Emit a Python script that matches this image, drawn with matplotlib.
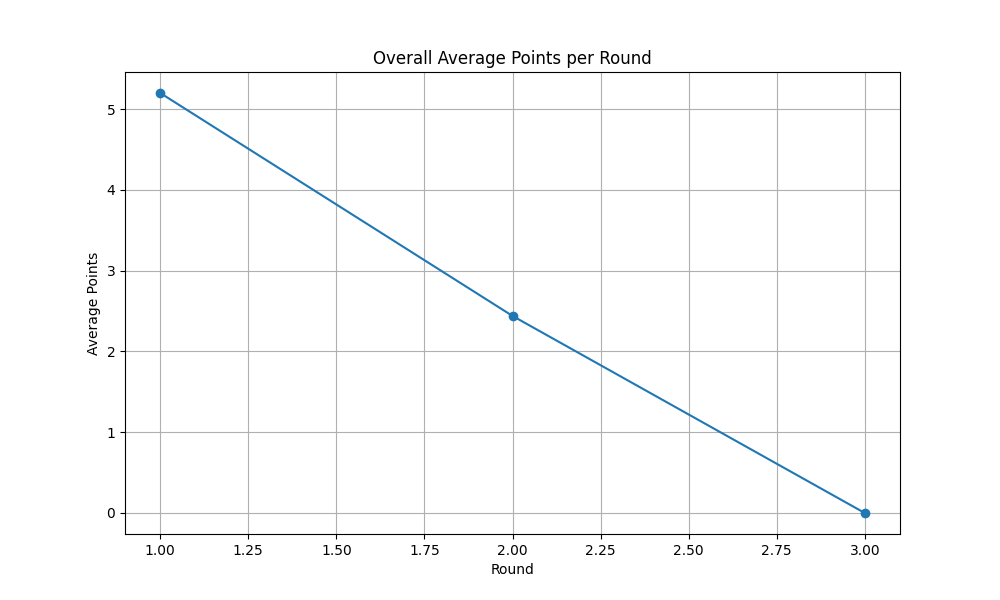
import matplotlib
matplotlib.use("Agg")
import matplotlib.pyplot as plt

rounds = [1, 2, 3]
avg_points = [5.2, 2.44, 0.0]

plt.figure(figsize=(10, 6))
plt.plot(rounds, avg_points, marker='o')
plt.title('Overall Average Points per Round')
plt.xlabel('Round')
plt.ylabel('Average Points')
plt.grid(True)
plt.savefig("out.png", dpi=100)
